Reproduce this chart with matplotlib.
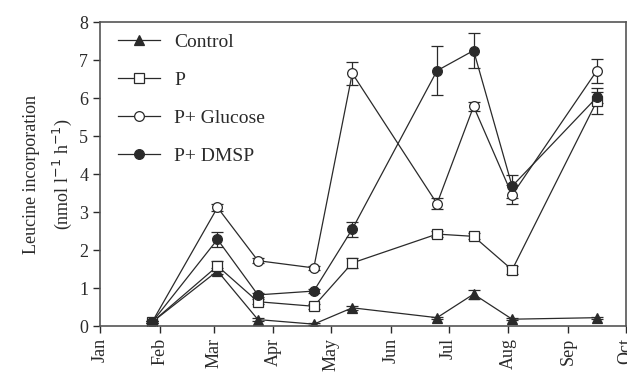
import numpy as np
import matplotlib
matplotlib.use('Agg')
import matplotlib.pyplot as plt

plt.rcParams['font.family'] = ['Liberation Serif', 'DejaVu Serif']

# sampling dates as day of year
days = [27, 61, 82, 111, 131, 175, 194, 214, 258]

control = [0.10, 1.45, 0.17, 0.05, 0.48, 0.22, 0.84, 0.18, 0.22]
control_err = [0.02, 0.08, 0.03, 0.02, 0.05, 0.03, 0.12, 0.03, 0.03]
p_only = [0.10, 1.58, 0.64, 0.52, 1.66, 2.42, 2.36, 1.48, 5.92]
p_only_err = [0.02, 0.12, 0.06, 0.06, 0.12, 0.08, 0.08, 0.10, 0.35]
p_glucose = [0.10, 3.12, 1.72, 1.53, 6.65, 3.22, 5.78, 3.45, 6.72]
p_glucose_err = [0.02, 0.10, 0.06, 0.06, 0.30, 0.15, 0.12, 0.25, 0.32]
p_dmsp = [0.10, 2.28, 0.82, 0.92, 2.55, 6.72, 7.25, 3.68, 6.02]
p_dmsp_err = [0.02, 0.20, 0.06, 0.06, 0.20, 0.65, 0.47, 0.30, 0.15]

month_days = [0, 31, 59, 90, 120, 151, 181, 212, 243, 273]
month_labels = ['Jan', 'Feb', 'Mar', 'Apr', 'May', 'Jun', 'Jul', 'Aug', 'Sep', 'Oct']

fig = plt.figure(figsize=(6.27, 3.8), dpi=100)
ax = fig.add_axes([0.1595, 0.142, 0.8385, 0.800])

ink = '#2a2a2a'
style = dict(color=ink, lw=0.9, ms=7, capsize=4, elinewidth=0.9, capthick=0.9, mew=0.9)
ax.errorbar(days, control, yerr=control_err, marker='^', mfc=ink, mec=ink, label='Control', **style)
ax.errorbar(days, p_only, yerr=p_only_err, marker='s', mfc='white', mec=ink, label='P', **style)
ax.errorbar(days, p_glucose, yerr=p_glucose_err, marker='o', mfc='white', mec=ink, label='P+ Glucose', **style)
ax.errorbar(days, p_dmsp, yerr=p_dmsp_err, marker='o', mfc=ink, mec=ink, label='P+ DMSP', **style)

ax.set_xlim(0, 273)
ax.set_ylim(0, 8)
ax.set_xticks(month_days)
ax.set_xticklabels(month_labels, rotation=90, fontsize=13)
ax.set_yticks(range(0, 9))
ax.tick_params(axis='y', labelsize=13)
ax.tick_params(direction='out', length=5, width=1, color=ink, labelcolor=ink)
for s in ax.spines.values():
    s.set_color('#555555')
    s.set_linewidth(1.2)

ax.set_ylabel('Leucine incorporation\n(nmol l$^{-1}$ h$^{-1}$)', fontsize=13, color=ink,
              linespacing=1.6, labelpad=4)

handles, labels = ax.get_legend_handles_labels()
handles = [h[0] for h in handles]  # line+marker only, no error bars
leg = ax.legend(handles, labels, loc='upper left', bbox_to_anchor=(0.0, 1.02), frameon=False,
                fontsize=14, handlelength=2.2, labelspacing=1.05, handletextpad=0.7)
for t in leg.get_texts():
    t.set_color(ink)

fig.savefig('out.png', dpi=100)
